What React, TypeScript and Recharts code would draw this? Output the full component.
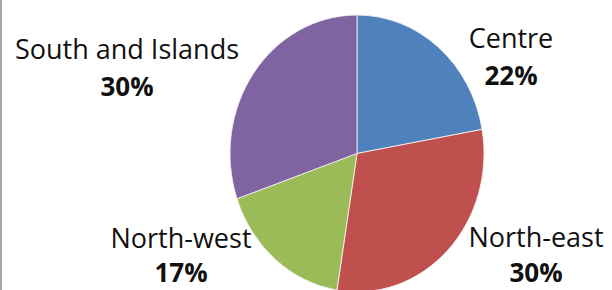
import { PieChart, Pie, Cell } from 'recharts';

const regions = ['Centre', 'North-east', 'North-west', 'South and Islands'];
const shares = [22, 30, 17, 30];
const colors = ['#4F81BD', '#C0504D', '#9BBB59', '#8064A2'];

const data = regions.map((name, i) => ({ name, value: shares[i] }));

// pie in the reference is a bit taller than wide
const STRETCH = 1.09;
const CY = 148;

// label anchors in page pixels: centre x, baseline of name, baseline of percent
const labelSpots = [
  { x: 511, y1: 48, y2: 85 },
  { x: 536, y1: 247, y2: 282 },
  { x: 181, y1: 248, y2: 282 },
  { x: 127, y1: 59, y2: 96 },
];

const renderLabel = (props: any) => {
  const spot = labelSpots[props.index];
  const yc = CY + (spot.y1 - CY) / STRETCH;
  return (
    <g transform={`translate(${spot.x},${yc}) scale(1,${1 / STRETCH})`}>
      <text x={0} y={0} textAnchor="middle" fontSize={27} fill="#111">
        {props.name}
      </text>
      <text x={0} y={spot.y2 - spot.y1} textAnchor="middle" fontSize={26} fontWeight="bold" fill="#111">
        {`${props.value}%`}
      </text>
    </g>
  );
};

export default function App() {
  return (
    <div
      style={{
        position: 'absolute',
        left: 0,
        top: 0,
        width: 612,
        height: 290,
        overflow: 'hidden',
        background: '#fff',
        fontFamily: '"Open Sans", sans-serif',
      }}
    >
      <div style={{ position: 'absolute', left: 0, top: 0, width: 2, height: 290, background: '#a6a6a6' }} />
      <div style={{ transform: `scaleY(${STRETCH})`, transformOrigin: `0 ${CY}px` }}>
        <PieChart width={612} height={290}>
          <Pie
            data={data}
            dataKey="value"
            nameKey="name"
            cx={352}
            cy={CY}
            outerRadius={127}
            startAngle={90}
            endAngle={-270}
            stroke="#f4f4f4"
            strokeWidth={0.8}
            label={renderLabel}
            labelLine={false}
            isAnimationActive={false}
          >
            {data.map((d, i) => (
              <Cell key={d.name} fill={colors[i]} />
            ))}
          </Pie>
        </PieChart>
      </div>
    </div>
  );
}
